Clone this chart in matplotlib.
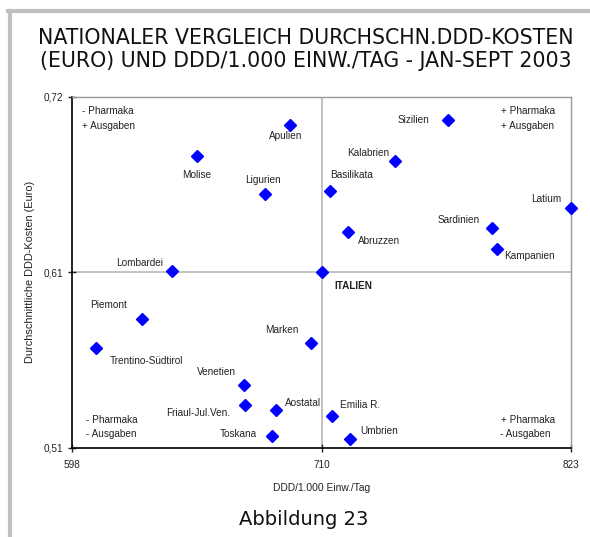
import matplotlib.pyplot as plt
from matplotlib.lines import Line2D

plt.rcParams['font.family'] = ['Liberation Sans', 'DejaVu Sans']

# Regionen: DDD/1.000 Einw./Tag (x) und durchschnittliche DDD-Kosten in Euro (y)
regionen = ['Apulien', 'Molise', 'Ligurien', 'Lombardei', 'Basilikata', 'Sizilien',
            'Kalabrien', 'Latium', 'Sardinien', 'Kampanien', 'Abruzzen', 'Piemont',
            'Trentino-Südtirol', 'Marken', 'Venetien', 'Friaul-Jul.Ven.', 'Aostatal',
            'Toskana', 'Emilia R.', 'Umbrien']
ddd = [696.2, 654.4, 684.9, 643.1, 714.3, 767.7, 743.5, 823.0, 787.2, 789.5,
       722.5, 629.3, 608.7, 705.6, 675.3, 676.1, 689.9, 688.1, 715.3, 723.3]
kosten = [0.702, 0.683, 0.660, 0.614, 0.662, 0.705, 0.680, 0.652, 0.640, 0.627,
          0.637, 0.585, 0.567, 0.570, 0.545, 0.533, 0.530, 0.514, 0.526, 0.512]

italien_x = 710.5
italien_y = 0.613

x_ticks = [598, italien_x, 823]
x_labels = ['598', '710', '823']
y_ticks = [0.507, italien_y, 0.719]
y_labels = ['0,51', '0,61', '0,72']

# Versatz der Beschriftungen in Pixel (x, y nach oben)
versatz = [(-4, -11), (-1, -19), (-2, 14), (-33, 8), (22, 16), (-35, 0),
           (-27, 8), (-25, 9), (-33, 8), (33, -7), (31, -9), (-33, 14),
           (50, -13), (-29, 13), (-27, 13), (-47, -8), (27, 7),
           (-34, 2), (28, 11), (29, 8)]

fig = plt.figure(figsize=(5.9, 5.37), dpi=100)
ax = fig.add_axes([0.1225, 0.1663, 0.8453, 0.6536])

ax.axvline(italien_x, color='#b8b8b8', lw=1.2, zorder=1)
ax.axhline(italien_y, color='#b8b8b8', lw=1.2, zorder=1)

ax.plot(ddd, kosten, 'D', color='#0000ff', markersize=6.5, zorder=3, clip_on=False)
ax.plot([italien_x], [italien_y], 'D', color='#0000ff', markersize=6.5, zorder=3, clip_on=False)

for name, x, y, (dx, dy) in zip(regionen, ddd, kosten, versatz):
    ax.annotate(name, (x, y), xytext=(dx, dy), textcoords='offset pixels',
                ha='center', va='center', fontsize=7.2, color='#222222')
ax.annotate('ITALIEN', (italien_x, italien_y), xytext=(32, -14), textcoords='offset pixels',
            ha='center', va='center', fontsize=7.2, fontweight='bold', color='#222222')

# Quadranten
quadranten = [(0.019, 0.959, '- Pharmaka'), (0.019, 0.916, '+ Ausgaben'),
              (0.860, 0.959, '+ Pharmaka'), (0.860, 0.916, '+ Ausgaben'),
              (0.028, 0.078, '- Pharmaka'), (0.028, 0.038, '- Ausgaben'),
              (0.860, 0.078, '+ Pharmaka'), (0.858, 0.038, '- Ausgaben')]
for qx, qy, txt in quadranten:
    ax.text(qx, qy, txt, transform=ax.transAxes, ha='left', va='center',
            fontsize=7.2, color='#222222')

ax.set_xlim(598, 823)
ax.set_ylim(0.507, 0.719)
ax.set_xticks(x_ticks, x_labels)
ax.set_yticks(y_ticks, y_labels)
ax.tick_params(direction='inout', length=6, width=1, labelsize=7.2, colors='#222222')
ax.tick_params(axis='x', pad=6)

for s in ['left', 'bottom']:
    ax.spines[s].set_color('black')
    ax.spines[s].set_linewidth(1.2)
for s in ['top', 'right']:
    ax.spines[s].set_color('#999999')
    ax.spines[s].set_linewidth(1)

ax.set_xlabel('DDD/1.000 Einw./Tag', fontsize=7.4, color='#222222', labelpad=9)
ax.set_ylabel('Durchschnittliche DDD-Kosten (Euro)', fontsize=7.9, color='#222222', labelpad=6)

fig.text(0.518, 0.908, 'NATIONALER VERGLEICH DURCHSCHN.DDD-KOSTEN\n(EURO) UND DDD/1.000 EINW./TAG - JAN-SEPT 2003',
         ha='center', va='center', fontsize=14.8, linespacing=1.2, color='#111111',
         family='DejaVu Sans')
fig.text(0.515, 0.032, 'Abbildung 23', ha='center', va='center', fontsize=14,
         color='#111111', family='DejaVu Sans')

# grauer Rahmen links und oben
fig.add_artist(Line2D([0.0169, 0.0169], [0, 0.9804], color='#c0c0c0', lw=3))
fig.add_artist(Line2D([0.0135, 1], [0.9804, 0.9804], color='#c0c0c0', lw=3))

fig.savefig('out.png', dpi=100)
